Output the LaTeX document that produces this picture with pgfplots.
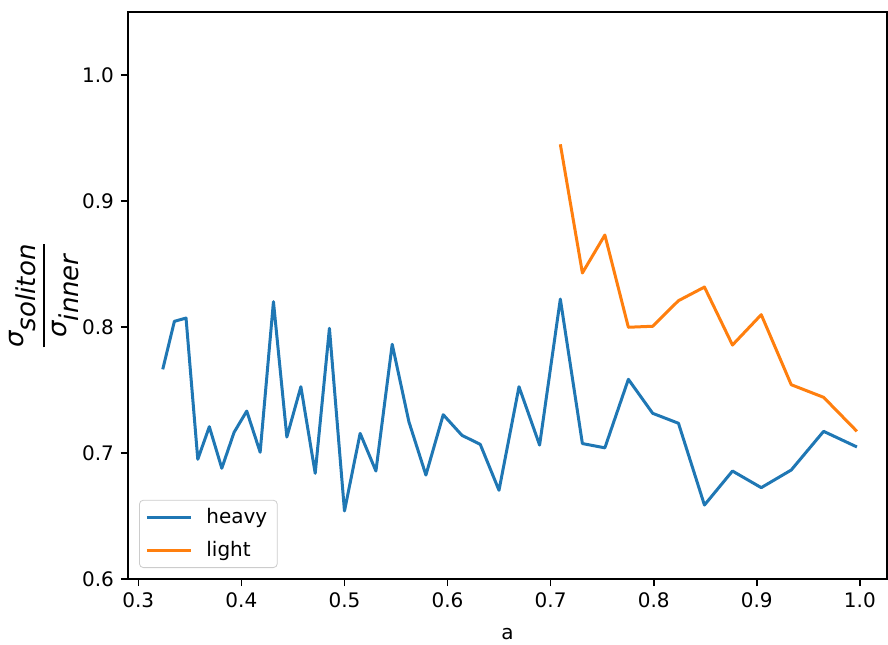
\documentclass[border=0pt]{standalone}
\usepackage{pgfplots}
\pgfplotsset{compat=1.18}
\usepackage{fontspec}
\setmainfont{DejaVu Sans}
\definecolor{mplblue}{HTML}{1F77B4}
\definecolor{mplorange}{HTML}{FF7F0E}
\pgfplotstableread{
x y
0.3237 0.7664
0.3350 0.8045
0.3463 0.8071
0.3577 0.6950
0.3689 0.7209
0.3810 0.6879
0.3929 0.7164
0.4052 0.7333
0.4182 0.7006
0.4311 0.8201
0.4441 0.7127
0.4577 0.7526
0.4716 0.6839
0.4854 0.7990
0.5000 0.6540
0.5152 0.7156
0.5305 0.6857
0.5463 0.7863
0.5625 0.7248
0.5790 0.6825
0.5958 0.7304
0.6140 0.7140
0.6317 0.7069
0.6499 0.6704
0.6693 0.7526
0.6893 0.7063
0.7094 0.8222
0.7308 0.7075
0.7526 0.7041
0.7754 0.7585
0.7990 0.7315
0.8240 0.7236
0.8492 0.6587
0.8764 0.6857
0.9043 0.6725
0.9334 0.6865
0.9648 0.7172
0.9971 0.7048
}\heavy
\pgfplotstableread{
x y
0.7094 0.9450
0.7308 0.8429
0.7526 0.8730
0.7754 0.7998
0.7990 0.8006
0.8240 0.8209
0.8492 0.8317
0.8764 0.7857
0.9043 0.8098
0.9334 0.7542
0.9648 0.7442
0.9971 0.7172
}\light
\begin{document}
\begin{tikzpicture}
\useasboundingbox (0,0) rectangle (444pt,322pt);
\begin{axis}[
  at={(64pt,32.5pt)}, anchor=south west,
  scale only axis, width=379.5pt, height=283.5pt,
  xmin=0.29, xmax=1.0263, ymin=0.6, ymax=1.05,
  xtick={0.3,0.4,...,1.0}, ytick={0.6,0.7,...,1.0},
  /pgf/number format/.cd, fixed, fixed zerofill, precision=1, assume math mode=true, /pgfplots/.cd,
  tick align=outside, tick pos=left, major tick length=3.5pt,
  tick style={black, line width=0.8pt},
  axis line style={line width=0.8pt},
  ticklabel style={font=\fontsize{10pt}{12pt}\selectfont},
  xlabel={a}, xlabel style={font=\fontsize{10pt}{12pt}\selectfont, yshift=-3pt},
  ylabel={\fontsize{13pt}{15pt}\selectfont$\displaystyle{\textit{σ}_{\textit{soliton}}\above 1.2pt\textit{σ}_{\textit{inner}}}$},
  ylabel style={yshift=-5pt},
  legend style={at={(0.0145,0.0194)}, anchor=south west, draw=black!20, rounded corners=2pt,
    font=\fontsize{10pt}{12pt}\selectfont, inner xsep=3pt, inner ysep=2pt, row sep=3.5pt,
    /tikz/every odd column/.append style={column sep=5pt}},
  legend cell align=left,
  legend image code/.code={\draw[#1, line width=1.5pt] (0pt,0pt) -- (22pt,0pt);},
]
\addplot[mplblue, line width=1.5pt, line join=round] table[x=x,y=y] {\heavy};
\addlegendentry{heavy}
\addplot[mplorange, line width=1.5pt, line join=round] table[x=x,y=y] {\light};
\addlegendentry{light}
\end{axis}
\end{tikzpicture}
\end{document}
